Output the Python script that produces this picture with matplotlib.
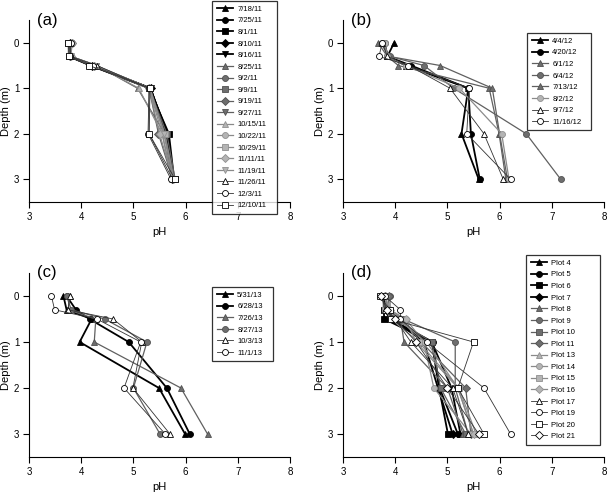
import matplotlib
matplotlib.use("Agg")
import matplotlib.pyplot as plt

plt.rcParams['font.family'] = ['Liberation Sans', 'DejaVu Sans']

depths = [0, 0.3, 0.5, 1, 2, 3]

# ---- panel (a) ----
labels_a = ["7/18/11", "7/25/11", "8/1/11", "8/10/11", "8/16/11", "8/25/11", "9/2/11",
            "9/9/11", "9/19/11", "9/27/11", "10/15/11", "10/22/11", "10/29/11",
            "11/11/11", "11/19/11", "11/26/11", "12/3/11", "12/10/11"]
ph_a = [
    [3.78, 3.78, 4.20, 5.32, 5.65, 5.75],
    [3.78, 3.77, 4.20, 5.32, 5.66, 5.76],
    [3.77, 3.76, 4.18, 5.30, 5.68, 5.78],
    [3.79, 3.78, 4.20, 5.33, 5.62, 5.74],
    [3.78, 3.79, 4.22, 5.33, 5.63, 5.73],
    [3.80, 3.80, 4.30, 5.08, 5.60, 5.75],
    [3.82, 3.80, 4.25, 5.30, 5.60, 5.78],
    [3.75, 3.76, 4.20, 5.30, 5.64, 5.80],
    [3.82, 3.78, 4.25, 5.30, 5.48, 5.75],
    [3.80, 3.78, 4.28, 5.32, 5.60, 5.76],
    [3.80, 3.80, 4.30, 5.10, 5.55, 5.74],
    [3.82, 3.80, 4.27, 5.30, 5.55, 5.75],
    [3.76, 3.77, 4.20, 5.30, 5.60, 5.78],
    [3.83, 3.80, 4.25, 5.30, 5.50, 5.76],
    [3.80, 3.80, 4.28, 5.32, 5.58, 5.77],
    [3.78, 3.80, 4.30, 5.30, 5.30, 5.75],
    [3.80, 3.78, 4.22, 5.30, 5.28, 5.72],
    [3.75, 3.77, 4.15, 5.32, 5.30, 5.80],
]
markers_a = ['^', 'o', 's', 'D', 'v'] * 3 + ['^', 'o', 's']
shades_a = ['k'] * 5 + ['g'] * 5 + ['l'] * 5 + ['w'] * 3

# ---- panel (b) ----
labels_b = ["4/4/12", "4/20/12", "6/1/12", "6/4/12", "7/13/12", "8/2/12", "9/7/12", "11/16/12"]
ph_b = [
    [3.98, 3.85, 4.20, 5.40, 5.27, 5.60],
    [3.80, 3.85, 4.30, 5.40, 5.45, 5.62],
    [3.67, 3.85, 4.06, 5.80, 5.99, 6.12],
    [3.75, 3.90, 4.55, 5.12, 6.51, 7.17],
    [3.72, 3.88, 4.86, 5.86, 6.00, 6.15],
    [3.80, 3.85, 4.20, 5.23, 6.04, 6.18],
    [3.75, 3.85, 4.26, 5.05, 5.70, 6.07],
    [3.75, 3.69, 4.25, 5.42, 5.37, 6.21],
]
markers_b = ['^', 'o', '^', 'o', '^', 'o', '^', 'o']
shades_b = ['k', 'k', 'g', 'g', 'g', 'l', 'w', 'w']

# ---- panel (c) ----
labels_c = ["5/31/13", "6/28/13", "7/26/13", "8/27/13", "10/3/13", "11/1/13"]
ph_c = [
    [3.66, 3.72, 4.20, 3.97, 5.49, 5.99],
    [3.72, 3.90, 4.16, 4.91, 5.64, 6.08],
    [3.78, 3.75, 4.28, 4.25, 5.91, 6.42],
    [3.72, 3.81, 4.45, 5.26, 5.00, 5.51],
    [3.78, 3.75, 4.61, 5.16, 4.99, 5.70],
    [3.43, 3.49, 4.30, 5.14, 4.82, 5.61],
]
markers_c = ['^', 'o', '^', 'o', '^', 'o']
shades_c = ['k', 'k', 'g', 'g', 'w', 'w']

# ---- panel (d) ----
labels_d = ["Plot 4", "Plot 5", "Plot 6", "Plot 7", "Plot 8", "Plot 9", "Plot 10", "Plot 11",
            "Plot 13", "Plot 14", "Plot 15", "Plot 16", "Plot 17", "Plot 19", "Plot 20", "Plot 21"]
ph_d = [
    [3.80, 3.80, 3.90, 4.70, 5.08, 5.25],
    [3.78, 3.82, 3.90, 4.72, 4.85, 5.20],
    [3.78, 3.78, 3.79, 4.70, 4.84, 5.01],
    [3.80, 3.85, 3.95, 4.55, 4.82, 5.10],
    [3.80, 3.85, 4.10, 4.17, 5.00, 5.30],
    [3.90, 3.90, 4.15, 5.15, 5.15, 5.40],
    [3.85, 3.80, 4.00, 4.70, 4.87, 5.35],
    [3.88, 3.85, 4.10, 4.50, 5.35, 5.45],
    [3.75, 3.80, 4.05, 4.60, 5.20, 5.50],
    [3.80, 3.85, 4.20, 4.55, 4.74, 5.45],
    [3.75, 3.80, 3.92, 4.45, 5.22, 5.55],
    [3.80, 3.90, 4.20, 4.40, 5.20, 5.50],
    [3.75, 3.80, 4.00, 4.30, 5.10, 5.40],
    [3.80, 4.10, 4.10, 4.60, 5.70, 6.21],
    [3.70, 3.90, 3.91, 5.50, 5.20, 5.70],
    [3.72, 3.85, 4.00, 4.40, 5.00, 5.60],
]
markers_d = ['^', 'o', 's', 'D', '^', 'o', 's', 'D', '^', 'o', 's', 'D', '^', 'o', 's', 'D']
shades_d = ['k'] * 4 + ['g'] * 4 + ['l'] * 4 + ['w'] * 4

STYLE = {
    'k': dict(mfc='black', mec='black', color='black', lw=1.3),
    'g': dict(mfc='#6e6e6e', mec='#505050', color='#606060', lw=0.9),
    'l': dict(mfc='#b4b4b4', mec='#909090', color='#8a8a8a', lw=0.9),
    'w': dict(mfc='white', mec='black', color='#333333', lw=0.6),
}

fig = plt.figure(figsize=(6.08, 4.93), dpi=100)
W, H = 608, 493

def axes_px(l, t, r, b):
    return fig.add_axes([l / W, 1 - b / H, (r - l) / W, (b - t) / H])

panels = [
    ("(a)", axes_px(29, 20, 290, 202), labels_a, ph_a, markers_a, shades_a, (212, 1, 277, 191)),
    ("(b)", axes_px(343, 20, 604, 202), labels_b, ph_b, markers_b, shades_b, (527, 33, 591, 121)),
    ("(c)", axes_px(29, 273, 290, 457), labels_c, ph_c, markers_c, shades_c, (212, 287, 273, 357)),
    ("(d)", axes_px(343, 273, 604, 457), labels_d, ph_d, markers_d, shades_d, (526, 255, 600, 432)),
]

for tag, ax, labels, phs, mks, shs, box in panels:
    handles = []
    for lab, ph, mk, sh in zip(labels, phs, mks, shs):
        st = STYLE[sh]
        h, = ax.plot(ph, depths, marker=mk, ms=4.3 if mk != 'D' else 3.6,
                     mfc=st['mfc'], mec=st['mec'], mew=0.6,
                     color=st['color'], lw=st['lw'], label=lab)
        handles.append(h)
    ax.set_xlim(3, 8)
    ax.set_ylim(3.5, -0.5)
    ax.set_xticks([3, 4, 5, 6, 7, 8])
    ax.set_yticks([0, 1, 2, 3])
    ax.spines['top'].set_visible(False)
    ax.spines['right'].set_visible(False)
    ax.tick_params(direction='out', length=4, width=0.8, labelsize=7, pad=3)
    ax.set_xlabel('pH', fontsize=8, labelpad=4)
    ax.set_ylabel('Depth (m)', fontsize=8, labelpad=2)
    ax.text(0.03, 1.0, tag, transform=ax.transAxes, fontsize=12, va='center', ha='left')
    l, t, r, b = box
    n = len(labels)
    leg = ax.legend(handles=handles, loc='upper left',
                    bbox_to_anchor=(l / W, 1 - b / H, (r - l) / W, (b - t) / H),
                    bbox_transform=fig.transFigure, mode='expand',
                    fontsize=5.5, frameon=True, fancybox=False, borderaxespad=0,
                    handlelength=2.2, handletextpad=0.5, borderpad=0.6,
                    labelspacing=0.55)
    leg.get_frame().set_edgecolor('black')
    leg.get_frame().set_linewidth(0.9)

fig.savefig('out.png', dpi=100)
